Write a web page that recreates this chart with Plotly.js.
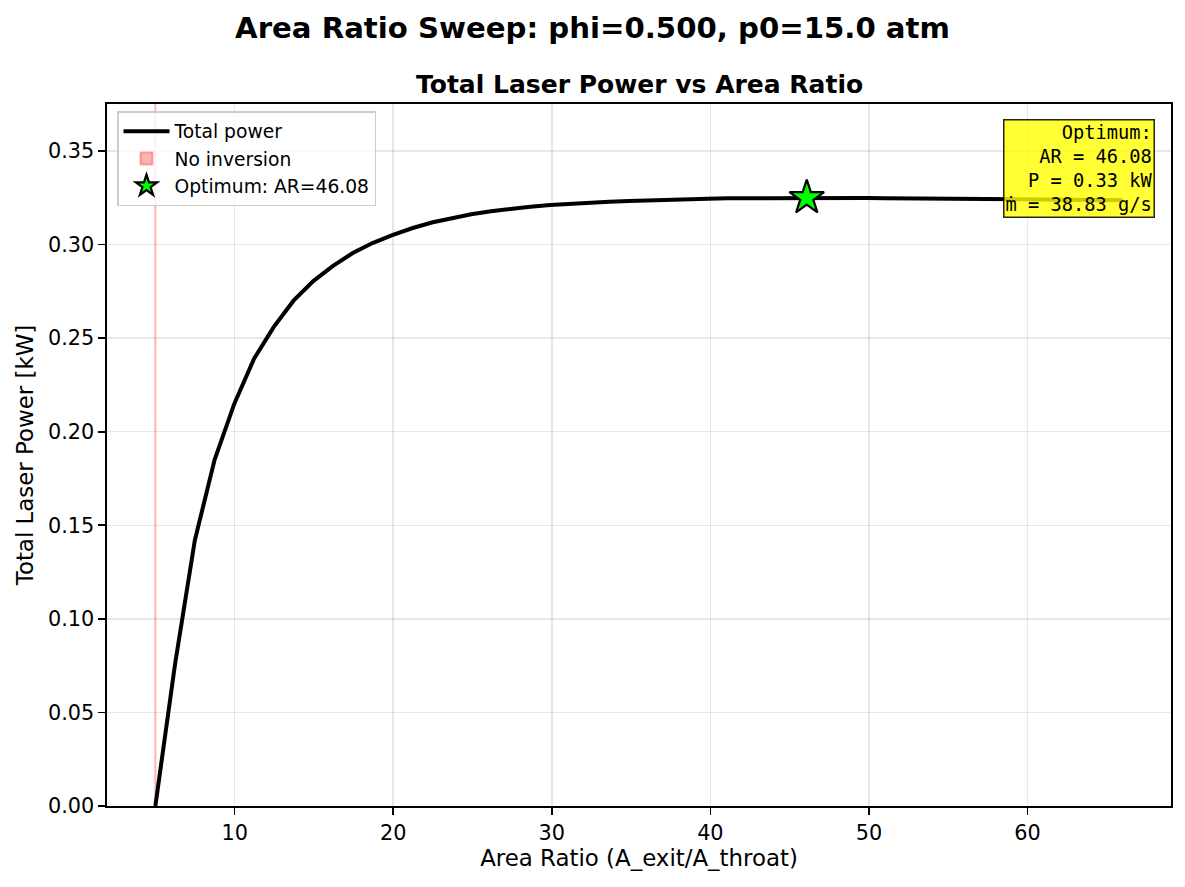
<!DOCTYPE html>
<html>
<head>
<meta charset="utf-8">
<script src="https://cdn.plot.ly/plotly-3.0.1.min.js"></script>
<style>html,body{margin:0;padding:0;background:#fff;}#chart{width:1185px;height:887px;}</style>
</head>
<body>
<div id="chart"></div>
<script>
// Area ratio sweep (A_exit/A_throat)
const areaRatio = [5.000, 6.245, 7.490, 8.735, 9.980, 11.224, 12.469, 13.714, 14.959, 16.204,
  17.449, 18.694, 19.939, 21.184, 22.429, 23.673, 24.918, 26.163, 27.408, 28.653,
  29.898, 31.143, 32.388, 33.633, 34.878, 36.122, 37.367, 38.612, 39.857, 41.102,
  42.347, 43.592, 44.837, 46.082, 47.327, 48.571, 49.816, 51.061, 52.306, 53.551,
  54.796, 56.041, 57.286, 58.531, 59.776, 61.020, 62.265, 63.510, 64.755, 66.000];
// Total laser power [kW]
const totalPower = [0.0000, 0.0760, 0.1420, 0.1850, 0.2150, 0.2390, 0.2560, 0.2700, 0.2805, 0.2886,
  0.2955, 0.3008, 0.3050, 0.3087, 0.3118, 0.3142, 0.3162, 0.3178, 0.3191, 0.3202,
  0.3211, 0.3218, 0.3224, 0.3229, 0.3233, 0.3237, 0.3240, 0.3243, 0.3245, 0.3247,
  0.3248, 0.3249, 0.3249, 0.3250, 0.32495, 0.3249, 0.3249, 0.3248, 0.3247, 0.3246,
  0.3246, 0.3245, 0.3244, 0.3243, 0.3242, 0.3241, 0.3240, 0.3239, 0.3238, 0.3237];
// No-inversion span [start, end] in area ratio
const noInversionSpan = [5.0, 5.0];
// Optimum
const optimumAR = [46.08];
const optimumPower = [0.3250];
const optimumMassFlow = 38.83; // g/s

const xTicks = [10, 20, 30, 40, 50, 60];
const yTicks = [0.00, 0.05, 0.10, 0.15, 0.20, 0.25, 0.30, 0.35];
const xRange = [1.95, 69.05];
const yRange = [0, 0.3751];

const FONT = 'DejaVu Sans, Liberation Sans, sans-serif';
const MONO = 'DejaVu Sans Mono, Liberation Mono, monospace';

const traces = [
  {
    type: 'scatter', mode: 'lines', name: 'Total power', legendrank: 1,
    x: areaRatio, y: totalPower,
    line: {color: '#000000', width: 4}
  },
  {
    type: 'scatter', mode: 'markers', name: 'Optimum: AR=' + optimumAR[0].toFixed(2), legendrank: 3,
    x: optimumAR, y: optimumPower,
    marker: {symbol: 'star', size: 26, color: '#00ff00', line: {color: '#000000', width: 2.2}}
  }
];

const annText = 'Optimum:<br>AR = ' + optimumAR[0].toFixed(2) +
  '<br>P = ' + optimumPower[0].toFixed(2) + ' kW<br>\u1E41 = ' + optimumMassFlow.toFixed(2) + ' g/s';

const axisCommon = {
  showline: true, mirror: true, linecolor: '#000000', linewidth: 1.6,
  ticks: 'outside', ticklen: 7, tickwidth: 1.6, tickcolor: '#000000',
  showgrid: true, gridcolor: 'rgba(176,176,176,0.3)', gridwidth: 1.5,
  zeroline: false, tickfont: {family: FONT, size: 20.8, color: '#000'},
  automargin: false
};

const layout = {
  width: 1185, height: 887,
  paper_bgcolor: '#ffffff', plot_bgcolor: '#ffffff',
  margin: {l: 107, r: 14, t: 104, b: 81},
  showlegend: true,
  title: {
    text: '<b>Area Ratio Sweep: phi=0.500, p0=15.0 atm</b>',
    font: {family: FONT, size: 29.2, color: '#000'},
    x: 0.5, xref: 'container', xanchor: 'center',
    y: 1 - 28 / 887, yref: 'container', yanchor: 'middle'
  },
  xaxis: Object.assign({}, axisCommon, {
    range: xRange, tickmode: 'array', tickvals: xTicks, ticktext: xTicks.map(String),
    title: {text: 'Area Ratio (A_exit/A_throat)', font: {family: FONT, size: 22.9, color: '#000'}, standoff: 6}
  }),
  yaxis: Object.assign({}, axisCommon, {
    range: yRange, tickmode: 'array', tickvals: yTicks, ticktext: yTicks.map(v => v.toFixed(2)),
    title: {text: 'Total Laser Power [kW]', font: {family: FONT, size: 22.9, color: '#000'}, standoff: 8}
  }),
  legend: {
    x: 0.0094, y: 0.99, xanchor: 'left', yanchor: 'top',
    bgcolor: 'rgba(255,255,255,0.8)', bordercolor: '#cccccc', borderwidth: 1.5,
    font: {family: FONT, size: 18.7, color: '#000'},
    tracegroupgap: 0, itemwidth: 46
  },
  shapes: [
    {
      type: 'rect', xref: 'x', yref: 'paper',
      x0: noInversionSpan[0], x1: noInversionSpan[1], y0: 0, y1: 1,
      fillcolor: 'rgba(255,0,0,0.3)', line: {color: 'rgba(255,0,0,0.3)', width: 2},
      layer: 'below', showlegend: true, name: 'No inversion', legendrank: 2
    }
  ],
  annotations: [
    {
      xref: 'paper', yref: 'paper', x: 0.5, y: 1 + 20 / 702, xanchor: 'center', yanchor: 'middle',
      text: '<b>Total Laser Power vs Area Ratio</b>', showarrow: false,
      font: {family: FONT, size: 25, color: '#000'}
    },
    {
      xref: 'paper', yref: 'paper', x: 0.985, y: 0.9786, xanchor: 'right', yanchor: 'top',
      text: annText, showarrow: false, align: 'right',
      font: {family: MONO, size: 18.7, color: '#000'},
      bgcolor: 'rgba(255,255,0,0.8)', bordercolor: 'rgba(0,0,0,0.85)', borderwidth: 1.5, borderpad: 1
    }
  ]
};

Plotly.newPlot('chart', traces, layout, {staticPlot: true, displayModeBar: false});
</script>
</body>
</html>
